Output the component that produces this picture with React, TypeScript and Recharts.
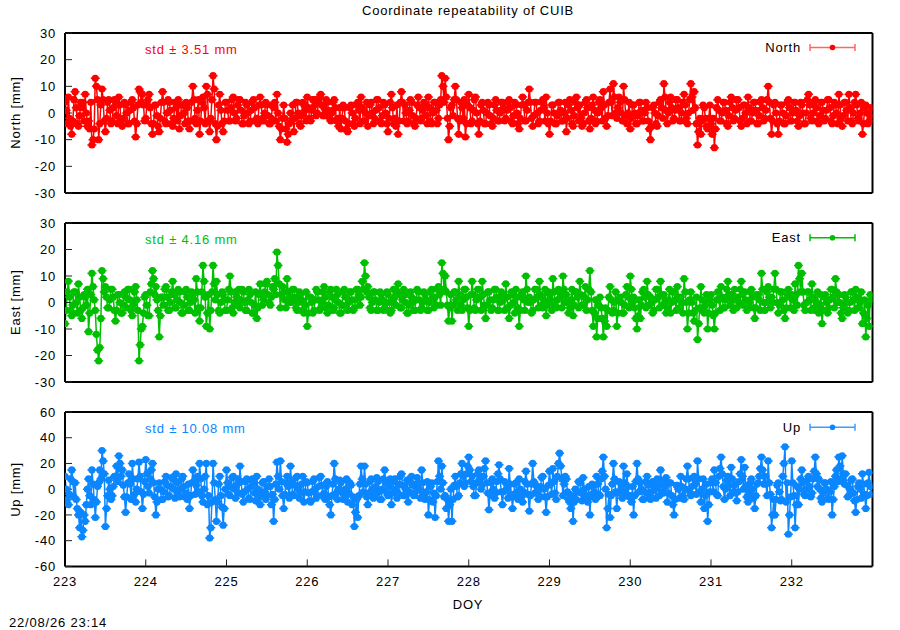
import { LineChart, Line, XAxis, YAxis } from "recharts";

// 20-minute solutions, DOY 223.0 .. 232.99
const START_DOY = 223;
const SAMPLES_PER_DAY = 72;
const DOY_TICKS = [223, 224, 225, 226, 227, 228, 229, 230, 231, 232];

const SERIES_NAMES = ["North", "East", "Up"];
const STD_MM = [3.51, 4.16, 10.08];

const NORTH_TICKS = [-30, -20, -10, 0, 10, 20, 30];
const EAST_TICKS = [-30, -20, -10, 0, 10, 20, 30];
const UP_TICKS = [-60, -40, -20, 0, 20, 40, 60];

const NORTH = [
  4, 1, -4, 6, -2, -5, -8, -3, 5, 8, 2, -4, -5, -1, 4, 2, 4, -3, 7, 0, -5, -3, -6, 4, -12, -10, -6, 13, 10, 5, -10, -4, 3, 9, 5, -3, -7, -2, 4, 5, 1, -4, -3, 2, 5, 4, -1, -4, 6, 3, -3, -5, -2, 4, 3, 0, -4, -4, 1, 4, 5, 2, -3, -9, -4, 3, 9, 8, 4, 7, 3, -3,
  -2, 3, 5, 7, 2, -4, -8, -4, 3, 3, -1, -5, -7, -2, 4, 8, 4, -3, -4, 0, 5, 4, 1, -4, -5, -2, 4, 2, -3, 5, -6, -1, 3, 3, 0, -4, 4, 2, -3, -6, -3, 4, 10, 5, -2, -4, 1, 5, -8, -3, 4, 6, 2, -4, 10, 7, -3, -7, -2, 5, 14, 9, -4, -10, -5, 3, 7, 1, -4, -7, -3, 4,
  4, 1, -3, -3, 2, 5, 6, 0, -3, -2, 3, 5, 5, 1, -4, -4, -1, 4, 3, 0, -4, -3, 1, 4, 5, 2, -3, -2, -4, 3, 6, 3, -2, -3, 0, 4, 3, -1, -4, -4, -2, 3, 2, 4, -3, 7, 0, -5, -10, -6, -2, 3, -2, -6, -11, -8, -4, 0, -3, 3, -7, -2, 4, 4, 0, -4, -5, -1, 4, 3, 1, -3,
  6, 2, -2, -3, 1, 5, 5, 3, -1, 0, 4, 6, 7, 3, -1, 2, -1, 5, 4, 1, -2, -3, 0, 4, 5, 2, -3, -2, -5, 2, -6, -2, 3, 2, -3, -6, -7, -4, 2, 3, 0, -4, -5, -2, 3, 4, 1, -4, 6, 2, -3, -3, 0, 4, -5, -1, 3, 4, 0, -4, -2, 1, 5, 5, 2, -3, -4, -1, 4, 3, 0, -4,
  -7, -2, 4, 7, 2, -4, -2, -5, 3, -8, -3, 4, 8, 4, -3, 3, 0, -4, -3, 1, 5, 4, -1, -4, -5, -2, 3, 6, 2, -3, -2, 1, 4, 3, -1, -4, 6, 2, -3, -4, 0, 4, 4, 1, -4, -2, 3, 5, 14, 10, 4, 13, 6, -2, -10, -5, 2, 3, -1, 5, 10, 5, -2, -8, -3, 4, 2, -2, 5, -9, -4, 3,
  7, 2, -4, -3, 1, 5, 6, 0, -4, -8, -3, 3, 4, 1, -4, -4, 0, 4, 3, -1, -4, -5, -2, 3, 5, 1, -3, -3, 0, 4, 4, 2, -3, -2, 1, 4, 5, 2, -3, -4, -1, 4, 3, 0, -4, -6, -2, 3, 6, 3, -3, -3, 1, 4, 9, 4, -2, -5, -1, 4, 4, 0, -4, -3, 1, 4, 5, 2, -3, 6, 0, -4,
  -8, -3, 3, 3, 0, -4, -4, -1, 4, 4, 1, -3, -3, 0, 4, -7, -2, 3, 5, 1, -4, -5, -1, 4, 6, 2, -3, 3, -2, -5, -4, 0, 4, 5, 2, -3, -6, -2, 3, 6, 1, -4, -3, 0, 4, 5, 2, -3, 8, 3, -2, -5, -1, 4, 9, 4, -1, 11, 6, 0, -2, 2, 6, 4, 0, -3, 10, 5, -1, -4, 0, 4,
  -6, -2, 3, 3, 0, -4, -4, -1, 4, 4, 1, -3, -3, 0, 4, 2, -3, -6, -10, -5, 2, 3, 0, -4, -5, -1, 4, 5, 2, -2, 11, 6, 1, -4, 0, 4, 6, 2, -3, -2, 1, 5, 5, 2, -3, -3, 0, 4, 7, 3, -2, -4, 0, 5, 11, 6, 1, 8, 2, -4, -12, -7, -2, -8, -3, 3, 2, -2, -5, -6, -2, 3,
  -4, -8, -2, -13, -6, 2, 5, 1, -3, -3, 0, 4, 4, 1, -4, -5, -1, 4, 6, 2, -3, -2, 1, 5, 5, 2, -3, -5, -2, 3, 3, 0, -4, 6, 2, -3, -3, 0, 4, 4, 1, -4, -4, -1, 4, 5, 2, -3, -2, 1, 5, 10, 4, -2, -8, -3, 3, 4, 0, -4, -8, -3, 3, 3, 0, -4, -4, -1, 4, 5, 2, -3,
  -3, 0, 4, 4, 1, -3, -5, -1, 4, 3, 0, -4, -4, 0, 5, 7, 3, -2, -3, 0, 4, 5, 2, -3, -4, -1, 4, 4, 1, -3, -2, 1, 5, 5, 2, -3, -4, -1, 4, 3, 0, -4, 7, 3, -2, -5, -1, 4, 4, 1, -3, 7, 2, -3, -4, 0, 4, 7, 3, -2, -3, 0, 4, -8, -4, 2, 3, 0, -4, -3, -1, 2,
];

const EAST = [
  -8, -3, 4, 8, 2, -3, -5, -1, 4, 4, 0, -4, 7, 2, -3, -6, -2, 3, 2, -1, 5, -11, -4, 3, 11, 6, 1, -3, -12, -18, -22, -17, -6, 12, 9, 4, 6, 2, -2, -2, 1, 5, 5, 2, -3, -7, -3, 3, 3, 0, -4, -4, -1, 4, 2, -2, 5, 5, 1, -3, -5, -1, 4, 6, 1, -3, -22, -16, -10, -9, -4, 2,
  3, -1, -5, -5, 4, 7, 12, 9, 3, 6, 1, -3, -13, -5, 2, 2, -1, 5, 6, 2, -3, -3, 0, 4, 8, 3, -2, -2, 1, 5, 4, 0, -4, -4, -1, 4, 5, 2, -3, -3, 0, 4, 3, 1, -4, 9, 4, -2, -7, -2, 4, 14, 8, 2, -9, -4, 3, -10, -3, 4, 14, 7, 1, 8, 3, -3, -4, 0, 4, 3, 1, -3,
  -3, 1, 5, 10, 4, -2, -4, 0, 4, 2, -1, 5, -2, 1, 5, 4, 0, -3, -3, 1, 5, 3, 0, -4, -4, -1, 4, -6, -2, 3, 7, 3, -1, 1, 4, 7, 8, 3, 0, -1, 2, 6, 5, 9, 3, 19, 14, 7, -2, 3, 6, 4, 1, -2, 9, 4, 0, 2, 0, 5, 5, 2, -2, -3, 0, 4, 3, 1, -3, -4, -1, 4,
  -9, -4, 2, 2, 0, -4, -3, 1, 5, 4, 1, -3, -2, 0, 4, 6, 2, -2, -4, -1, 4, 5, 2, -3, -2, 1, 5, 3, 0, -4, -4, -1, 4, 5, 2, -2, -3, 0, 4, 4, 1, -3, -2, 1, 5, 5, 3, -1, 2, 8, 5, 15, 10, 4, 6, 2, -2, -3, 0, 4, 4, 1, -3, -3, 0, 4, 3, 1, -3, -2, 0, 4,
  3, 0, -4, -3, 1, 5, 2, -1, 4, 7, 3, -2, -2, 1, 5, 3, 0, -4, -4, -1, 4, 2, 0, -3, -3, 1, 5, 4, 1, -3, -2, 0, 4, 3, 1, -3, -3, 0, 4, 5, 2, -2, 2, -1, 5, 6, 3, -1, 15, 11, 5, 10, 4, -1, -7, -2, 3, -7, -1, 4, 4, 1, -3, 8, 3, -1, -3, 1, 5, 5, 2, -2,
  -9, -3, 3, 8, 3, -2, -3, 1, 5, 5, 2, -3, 8, 3, -1, -6, -1, 4, 4, 1, -3, -2, 1, 5, 5, 2, -3, -3, 0, 4, 3, 1, -3, 7, 2, -2, -6, -1, 4, 3, 0, -4, 5, 2, -2, -9, -3, 3, 4, 1, -3, 10, 5, 0, 2, 0, -4, -3, 1, 5, 5, 2, -2, 8, 3, -1, -2, 1, 5, -5, -1, 4,
  3, 1, -3, 9, 4, -1, -2, 1, 5, 4, 2, -2, 10, 5, 0, 3, 0, -4, -2, 1, 5, -5, -1, 4, 4, 2, -2, 8, 3, -1, -1, 2, 6, -3, 1, 5, 12, 4, -3, -9, -4, 1, -13, -6, -1, 2, -2, -6, -13, -7, -2, -9, -3, 2, 6, 1, -4, -3, 0, 4, -9, -4, 1, 2, 0, -4, -4, -1, 3, 6, 2, -2,
  10, 5, 0, 2, -2, -6, -10, -5, 1, -6, -1, 4, 5, 2, -2, 8, 3, -1, 2, 0, -4, -3, 1, 5, 5, 2, -2, 8, 3, -1, 3, 0, -4, -2, 1, 5, -4, 0, 4, 4, 1, -3, 6, 2, -2, 2, 0, -4, 9, 4, 0, -10, -4, 1, 4, 0, -4, -7, -3, 2, -14, -8, -2, 6, 1, -3, -4, -1, 3, -10, -4, 1,
  3, -1, -5, -10, -4, 1, 4, 1, -3, 6, 2, -2, -2, 1, 5, 8, 3, -1, 3, 1, -3, 5, 2, -2, 2, 0, 5, 8, 3, -1, 4, 1, -3, -2, 0, 4, 5, 2, -2, -6, -2, 3, 3, 1, -3, 11, 5, 0, -3, 0, 4, 6, 2, -2, 2, 0, 5, 11, 5, 0, -4, -1, 4, 4, 1, -3, -6, -2, 3, 5, 2, -2,
  3, 1, -3, 7, 3, -1, 14, 9, 4, 11, 4, -1, -3, 0, 4, 4, 1, -3, 7, 2, -2, -3, 0, 4, -4, -1, 3, -8, -3, 2, 3, 0, -4, -2, 1, 5, 5, 2, -2, 9, 4, 0, 3, 0, -4, -6, -2, 3, 2, 0, -4, -3, 0, 4, 4, 1, -3, 5, 2, -2, -2, 0, 4, -8, -4, 1, -13, -6, -1, -9, 3, 1,
];

const UP = [
  10, 0, -8, -12, -4, 8, 15, 6, -6, 5, -8, -15, -20, -30, -18, -37, -32, -20, -25, -12, 0, 8, -5, -12, 15, 4, -8, -22, -10, 2, 5, 15, 8, 30, 22, 12, -29, -15, -5, 7, 0, -8, -5, 2, 10, 10, 18, 6, 26, 20, 10, 15, 3, -6, -18, -6, 5, 12, 4, -8, 20, 8, -4, -10, 0, 8, 21, 10, -2, -15, -4, 6,
  23, 12, 2, -3, 8, 15, 20, 5, -6, -20, -10, 0, 5, 0, -8, -8, -2, 6, 10, 3, -6, -5, 2, 9, 8, 0, -7, 12, 5, -4, -6, 0, 8, 10, 2, -6, -3, -8, 4, -15, -5, 5, 15, 6, -4, 3, 10, -2, 20, 8, -5, -10, 0, 10, 20, -12, -5, -38, -30, -10, 20, 5, -8, -25, -10, 4, 10, -5, -14, -28, -15, 0,
  15, 5, -4, -5, 2, 9, 10, 0, -7, 3, 8, -3, 18, 6, -4, -10, -2, 6, 8, 0, -7, -8, 2, 8, 5, -3, -9, 10, 0, -6, -12, -4, 5, 6, -2, -8, -5, 2, 8, 2, -12, -4, -25, -8, 4, 21, 10, 0, 22, 6, -5, -15, -4, 5, 10, 2, -7, 18, 6, -4, -5, 3, 9, 10, 0, -7, -3, 4, 10, -10, -2, 6,
  5, -3, -9, -10, -2, 6, 8, 0, -7, -5, 2, 9, 10, 3, -5, -3, -8, 2, 6, -6, -12, -20, -5, 4, 20, 8, -3, -8, 0, 7, 5, -2, -8, -5, 0, 8, -10, -3, 5, 3, -12, -6, -29, -18, -8, -22, -5, 4, 18, 8, -2, 18, 4, -6, -12, -3, 6, 8, 0, -7, -5, 2, 9, 6, -2, -8, -8, 0, 8, 15, 5, -3,
  -5, 2, 8, -12, -3, 6, 8, 0, -7, -3, 4, 10, 12, 3, -5, -5, 0, 7, -10, -2, 6, 10, 3, -5, -3, 2, 9, 5, 0, -7, 15, 5, -4, -8, -2, 6, -20, -8, 2, 5, -10, -3, -22, -5, 6, 22, 10, 0, 18, 5, -6, -5, -15, -8, -25, -12, 0, -25, -8, 3, 10, 2, -6, -5, 5, 12, 20, 10, 2, 5, 12, 18,
  25, 15, 6, 10, 2, -5, -5, 5, 12, 15, 8, 0, 3, 10, 16, 22, 5, -3, -16, -4, 5, 8, 0, -7, -3, 6, 12, 19, 8, -2, -12, -2, 6, 5, 0, -7, 16, 4, -4, -15, -5, 4, 5, -2, -8, 8, 0, -6, -10, -2, 6, 14, 4, -4, -17, -5, 4, 20, 6, -3, 3, -2, -8, -5, 2, 9, 10, 0, -6, -18, -6, 3,
  14, 4, -4, 16, 6, -3, -8, 10, 20, 28, 18, 8, -5, 4, 10, 8, -2, -8, -10, -15, -5, -25, -10, 0, -8, -2, 6, 5, -3, -9, 9, 0, -6, -5, -10, 2, -20, -5, 4, 3, -2, -8, 10, 4, -4, -5, 8, 14, 25, 10, 0, -30, -15, -4, -22, -5, 4, 20, 8, -2, -15, -3, 6, 5, 0, -7, 18, 5, -3, 12, 2, -6,
  -5, -10, 2, -20, -5, 6, 20, 8, -2, 5, 0, -8, -8, -2, 6, 10, 3, -5, -8, -2, 6, 3, 0, -7, 8, 2, -5, 15, 6, -2, -3, 2, 9, -10, -3, 5, 5, -5, -12, -20, -8, 3, 3, 0, -7, 10, 2, -5, -8, 0, 8, 18, 8, -2, -5, 2, 9, 10, 4, -4, 22, 8, -2, -10, 0, 8, -15, -5, 4, -25, -12, -2,
  5, 8, -2, 15, 5, -4, -5, 10, 16, 25, 12, 2, -8, 0, 7, 10, 3, -5, 17, 8, -2, 3, -3, -9, -2, 6, 12, 23, 10, 0, 17, 2, -6, -10, -3, 5, 8, 0, -7, -15, -5, 4, 5, 10, 16, 25, 15, 4, 10, 4, -5, 22, 5, -4, -30, -20, -8, -20, -8, 3, 5, -2, -9, -8, 10, 20, 33, -10, 5, -35, -20, -6,
  22, 5, -5, -30, -12, 2, -12, 0, 8, 15, 5, -4, -5, 0, 7, 10, 2, -6, -3, 8, 14, 25, 12, 2, 8, 0, -7, -10, -3, 5, 5, 0, -7, -8, -2, 6, -20, -8, 2, 10, 15, 6, 25, 18, 8, 26, 12, 4, 12, 3, -6, -5, 0, 7, 8, -3, -9, -18, -8, 2, 5, 0, -7, 12, 4, -4, -15, -5, 5, 13, 2, -4,
];

const W = 900;
const PLOT_LEFT = 65;
const PLOT_RIGHT = 872.5;
const FONT = '"Liberation Sans", Arial, Helvetica, sans-serif';

const panels = [
  { values: NORTH, ticks: NORTH_TICKS, color: "#ff0000", legendLine: "#ff6666", top: 32.5, bottom: 192.5, showX: false },
  { values: EAST, ticks: EAST_TICKS, color: "#00bf00", legendLine: "#00bf00", top: 222.7, bottom: 381.7, showX: false },
  { values: UP, ticks: UP_TICKS, color: "#0a86ff", legendLine: "#3d9cff", top: 412.3, bottom: 566.7, showX: true },
];

// gnuplot-like point: filled circle with small horizontal error-bar ears
function ErrDot(props: any) {
  const { cx, cy, color } = props;
  if (cx == null || cy == null) return null;
  return (
    <g>
      <line x1={cx - 4.5} x2={cx + 4.5} y1={cy} y2={cy} stroke={color} strokeWidth={1.5} />
      <circle cx={cx} cy={cy} r={3.6} fill={color} />
    </g>
  );
}

function Panel({ p, idx }: { p: (typeof panels)[number]; idx: number }) {
  const plotH = p.bottom - p.top;
  const data = p.values.map((v, i) => ({ doy: START_DOY + i / SAMPLES_PER_DAY, v }));
  const tickStyle = { fill: "#000", fontSize: 13 };
  const frame = { stroke: "#000", strokeWidth: 2 };
  const tickLine = { stroke: "#222", strokeWidth: 1 };
  const lo = p.ticks[0];
  const hi = p.ticks[p.ticks.length - 1];
  return (
    <div style={{ position: "absolute", left: 0, top: p.top - 10 }}>
      <LineChart
        width={W}
        height={plotH + 50}
        data={data}
        margin={{ top: 9, right: W - PLOT_RIGHT - 1, bottom: 10, left: PLOT_LEFT - 50 }}
      >
        <XAxis
          xAxisId="b"
          dataKey="doy"
          type="number"
          domain={[223, 233]}
          ticks={DOY_TICKS}
          allowDataOverflow
          orientation="bottom"
          height={30}
          tickSize={-7}
          tickMargin={17}
          tick={p.showX ? tickStyle : false}
          axisLine={frame}
          tickLine={tickLine}
        />
        <XAxis
          xAxisId="t"
          dataKey="doy"
          type="number"
          domain={[223, 233]}
          ticks={DOY_TICKS}
          allowDataOverflow
          orientation="top"
          height={1}
          tickSize={-7}
          tick={false}
          axisLine={frame}
          tickLine={tickLine}
        />
        <YAxis
          yAxisId="l"
          type="number"
          domain={[lo, hi]}
          ticks={p.ticks}
          allowDataOverflow
          width={50}
          tickSize={-7}
          tickMargin={16}
          tick={tickStyle}
          axisLine={frame}
          tickLine={tickLine}
        />
        <YAxis
          yAxisId="r"
          orientation="right"
          type="number"
          domain={[lo, hi]}
          ticks={p.ticks}
          allowDataOverflow
          width={1}
          tickSize={-7}
          tick={false}
          axisLine={frame}
          tickLine={tickLine}
        />
        <Line
          xAxisId="b"
          yAxisId="l"
          dataKey="v"
          name={SERIES_NAMES[idx]}
          type="linear"
          stroke={p.color}
          strokeWidth={1.5}
          dot={(d: any) => <ErrDot key={d.index} cx={d.cx} cy={d.cy} color={p.color} />}
          activeDot={false}
          isAnimationActive={false}
        />
      </LineChart>
    </div>
  );
}

export default function App() {
  return (
    <div
      style={{
        position: "absolute",
        left: 0,
        top: 0,
        width: W,
        height: 630,
        background: "#fff",
        fontFamily: FONT,
        letterSpacing: "0.8px",
        overflow: "hidden",
      }}
    >
      {panels.map((p, i) => (
        <Panel key={i} p={p} idx={i} />
      ))}
      <svg
        width={W}
        height={630}
        style={{ position: "absolute", left: 0, top: 0, pointerEvents: "none" }}
        fontFamily={FONT}
        fontSize={13}
      >
        <text x={468} y={10} textAnchor="middle" dominantBaseline="central" fill="#000">
          Coordinate repeatability of CUIB
        </text>
        {panels.map((p, i) => {
          const mid = (p.top + p.bottom) / 2;
          const ly = p.top + 15;
          return (
            <g key={i}>
              <text
                transform={`translate(15,${mid}) rotate(-90)`}
                textAnchor="middle"
                dominantBaseline="central"
                fill="#000"
              >
                {`${SERIES_NAMES[i]} [mm]`}
              </text>
              <text x={145} y={p.top + 16.5} dominantBaseline="central" fill={p.color}>
                {`std \u00b1 ${STD_MM[i].toFixed(2)} mm`}
              </text>
              <text x={801} y={ly} textAnchor="end" dominantBaseline="central" fill="#000">
                {SERIES_NAMES[i]}
              </text>
              <line x1={810} x2={855} y1={ly} y2={ly} stroke={p.legendLine} strokeWidth={1.5} />
              <line x1={810} x2={810} y1={ly - 3.5} y2={ly + 3.5} stroke={p.legendLine} strokeWidth={1.5} />
              <line x1={855} x2={855} y1={ly - 3.5} y2={ly + 3.5} stroke={p.legendLine} strokeWidth={1.5} />
              <circle cx={832.5} cy={ly} r={2.8} fill={p.color} />
            </g>
          );
        })}
        <text x={468} y={604} textAnchor="middle" dominantBaseline="central" fill="#000">
          DOY
        </text>
        <text x={9} y={622.7} dominantBaseline="central" fill="#000">
          22/08/26 23:14
        </text>
      </svg>
    </div>
  );
}
